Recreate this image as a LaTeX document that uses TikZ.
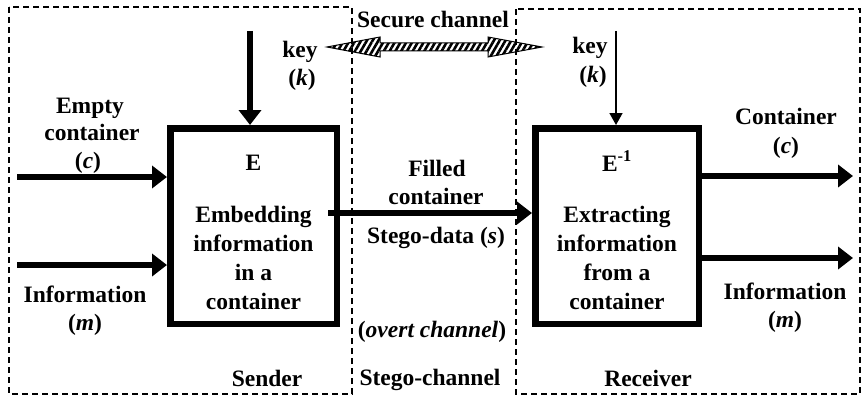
\documentclass[tikz,border=0pt]{standalone}
\usepackage{fontspec}
\setmainfont{Liberation Serif}
\usetikzlibrary{arrows.meta,patterns.meta,calc}
\tikzset{
  txt/.style={anchor=base, inner sep=0pt, font=\fontsize{23.5}{28}\selectfont\bfseries},
  procbox/.style={draw, line width=6.5pt, inner sep=0pt},
  zone/.style={draw, line width=1.2pt, dash pattern=on 6pt off 4pt},
  thick arrow/.style={line width=6pt, -{Triangle[length=15pt,width=22pt]}},
  thin arrow/.style={line width=1.6pt, -{Triangle[length=12pt,width=13pt]}},
  hatched/.style={draw, line width=1pt, pattern={Lines[angle=60,distance=5pt,line width=2.6pt]}, pattern color=black}
}
\begin{document}
\begin{tikzpicture}[x=1pt,y=-1pt]
\useasboundingbox (0,0) rectangle (867,396);
% zones
\draw[zone] (9,7) rectangle (352,394);
\draw[zone] (516,9) rectangle (860,394);
% boxes
\node[procbox, minimum width=166.5pt, minimum height=195.5pt] (E) at (253.5,226) {};
\node[procbox, minimum width=163.5pt, minimum height=195.5pt] (D) at (617,226) {};
% box texts
\node[txt] (Et) at (253.5,170) {E};
\node[txt] (E1) at (253.5,222) {Embedding};
\node[txt] (E2) at (253.5,251) {information};
\node[txt] (E3) at (253.5,280) {in a};
\node[txt] (E4) at (253.5,309) {container};
\node[txt] (Dt) at (617,171) {E\textsuperscript{-1}};
\node[txt] (D1) at (617,222) {Extracting};
\node[txt] (D2) at (617,251) {information};
\node[txt] (D3) at (617,280) {from a};
\node[txt] (D4) at (617,309) {container};
% coordinates for free ends
\coordinate (inC) at (17,177);
\coordinate (inM) at (17,265);
\coordinate (outC) at (853,176);
\coordinate (outM) at (853,258);
\coordinate (kL) at (250,31);
\coordinate (kR) at (616,31);
% inputs
\draw[thick arrow] (inC) -- (inC -| E.west);
\draw[thick arrow] (inM) -- (inM -| E.west);
\draw[thick arrow] (kL) -- (kL |- E.north);
\draw[thin arrow] (kR) -- (kR |- D.north);
% middle
\coordinate (mid) at (328,213);
\draw[thick arrow] (mid) -- (mid -| D.west);
% outputs
\draw[thick arrow] (outC -| D.east) -- (outC);
\draw[thick arrow] (outM -| D.east) -- (outM);
% secure channel hatched double arrow
\coordinate (scL) at (327,47);
\coordinate (scR) at (542,47);
\draw[hatched] (scL) -- ($(scL)+(53,-10)$) -- ($(scL)+(53,-4)$) -- ($(scR)+(-54,-4)$) -- ($(scR)+(-54,-10)$)
  -- (scR) -- ($(scR)+(-54,10)$) -- ($(scR)+(-54,4)$) -- ($(scL)+(53,4)$) -- ($(scL)+(53,10)$) -- cycle;
% labels
\node[txt] (sc) at (433,28) {Secure channel};
\node[txt] (kl1) at (300,57) {key};
\node[txt] (kl2) at (302,85) {(\textit{k})};
\node[txt] (kr1) at (590,53) {key};
\node[txt] (kr2) at (593,82) {(\textit{k})};
\node[txt] (ec1) at (90,113) {Empty};
\node[txt] (ec2) at (92,140) {container};
\node[txt] (ec3) at (88,168) {(\textit{c})};
\node[txt] (im1) at (85,302) {Information};
\node[txt] (im2) at (85,330) {(\textit{m})};
\node[txt] (fc1) at (437,176) {Filled};
\node[txt] (fc2) at (436,204) {container};
\node[txt] (sd) at (436,243) {Stego-data (\textit{s})};
\node[txt] (oc) at (432,337) {(\textit{overt channel})};
\node[txt] (sch) at (430,385) {Stego-channel};
\node[txt] (snd) at (267,386) {Sender};
\node[txt] (rcv) at (648,386) {Receiver};
\node[txt] (oc1) at (786,124) {Container};
\node[txt] (oc2) at (786,153) {(\textit{c})};
\node[txt] (om1) at (785,299) {Information};
\node[txt] (om2) at (785,327) {(\textit{m})};
\end{tikzpicture}
\end{document}
